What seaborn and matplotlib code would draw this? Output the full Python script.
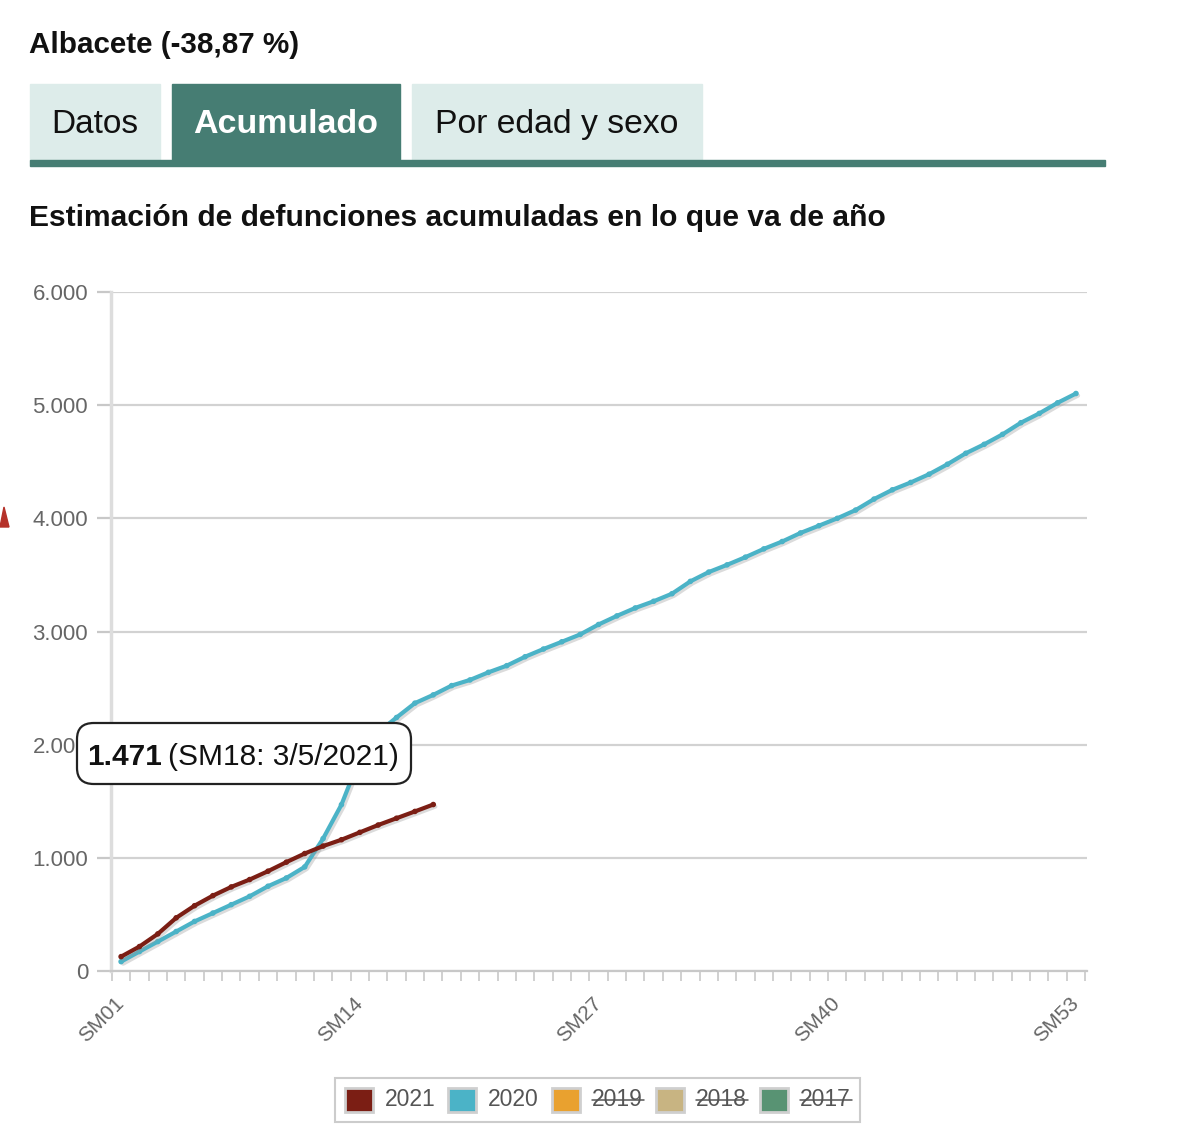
import pandas as pd
import seaborn as sns
import matplotlib.pyplot as plt
import matplotlib.patheffects as pe
from matplotlib.patches import Rectangle, FancyBboxPatch, Polygon
from matplotlib.lines import Line2D

# datos (defunciones acumuladas, Albacete)
semanas = [f"SM{i:02d}" for i in range(1, 54)]
acum_2021 = [127, 216, 328, 470, 577, 666, 743, 808, 882, 962, 1038, 1104,
             1160, 1225, 1290, 1350, 1410, 1471]
acum_2020 = [83, 172, 260, 349, 438, 512, 586, 660, 749, 822, 920, 1170, 1470,
             1880, 2110, 2240, 2367, 2440, 2522, 2572, 2639, 2698, 2777, 2845,
             2909, 2974, 3062, 3138, 3208, 3267, 3334, 3443, 3525, 3589, 3657,
             3730, 3795, 3871, 3935, 4000, 4073, 4170, 4252, 4317, 4390, 4478,
             4575, 4654, 4742, 4845, 4927, 5021, 5103]
anios = ["2021", "2020", "2019", "2018", "2017"]
colores = ["#7b1e14", "#4bb3c7", "#e9a12f", "#c8b482", "#589373"]
ticks_y = [0, 1000, 2000, 3000, 4000, 5000, 6000]
etiquetas_y = ["0", "1.000", "2.000", "3.000", "4.000", "5.000", "6.000"]
semanas_visibles = ["SM01", "SM14", "SM27", "SM40", "SM53"]

W, H = 1200, 1144


def fx(x):
    return x / W


def fy(y):
    return 1 - y / H


df = pd.concat([
    pd.DataFrame({"pos": range(len(acum_2021)), "valor": acum_2021, "anio": "2021"}),
    pd.DataFrame({"pos": range(len(acum_2020)), "valor": acum_2020, "anio": "2020"}),
])

sns.set_style("white")
plt.rcParams["font.family"] = ["Liberation Sans", "DejaVu Sans"]

fig = plt.figure(figsize=(12, 11.44), dpi=100)
ax = fig.add_axes([fx(111), fy(971), fx(1087) - fx(111), fy(292) - fy(971)])

sombra = [pe.SimpleLineShadow(offset=(1.5, -1.5), shadow_color="#999999", alpha=0.35), pe.Normal()]
sns.lineplot(data=df, x="pos", y="valor", hue="anio", hue_order=["2020", "2021"],
             palette={"2021": colores[0], "2020": colores[1]}, marker="o",
             markersize=4, markeredgewidth=0, linewidth=3, legend=False, ax=ax,
             path_effects=sombra, zorder=3)

ax.set_xlim(-0.55, 52.6)
ax.set_ylim(0, 6000)
ax.set_yticks(ticks_y)
ax.set_yticklabels(etiquetas_y, fontsize=16, color="#666666")
ax.yaxis.grid(True, color="#d2d2d2", linewidth=1.6)
ax.xaxis.grid(False)
ax.tick_params(axis="y", length=10, width=1.6, color="#c8c8c8", pad=6.5, left=True)

pos_vis = [semanas.index(s) for s in semanas_visibles]
ax.set_xticks(pos_vis)
ax.set_xticklabels(semanas_visibles, rotation=45, ha="right", va="center",
                   rotation_mode="anchor", fontsize=15, color="#666666")
ax.set_xticks([i - 0.5 for i in range(len(semanas) + 1)], minor=True)
ax.tick_params(axis="x", which="major", length=0, pad=21)
ax.tick_params(axis="x", which="minor", length=7, width=1.2, color="#c8c8c8", bottom=True)
for lbl in ax.get_xticklabels():
    lbl.set_x(lbl.get_position()[0])
ax.set_xlabel("")
ax.set_ylabel("")
for lado in ["top", "right"]:
    ax.spines[lado].set_visible(False)
ax.spines["left"].set_color("#dddddd")
ax.spines["left"].set_linewidth(2.5)
ax.spines["bottom"].set_color("#c8c8c8")
ax.spines["bottom"].set_linewidth(1.6)

# cabecera
fig.text(fx(29), fy(53), "Albacete (-38,87 %)", fontsize=21.3, fontweight="bold",
         color="#111111", va="baseline")
fig.patches.append(Rectangle((fx(30), fy(160)), fx(130), fy(84) - fy(160),
                             transform=fig.transFigure, color="#ddecea"))
fig.patches.append(Rectangle((fx(172), fy(160)), fx(228), fy(84) - fy(160),
                             transform=fig.transFigure, color="#467d73"))
fig.patches.append(Rectangle((fx(412), fy(160)), fx(290), fy(84) - fy(160),
                             transform=fig.transFigure, color="#ddecea"))
fig.patches.append(Rectangle((fx(30), fy(166)), fx(1075), fy(160) - fy(166),
                             transform=fig.transFigure, color="#467d73"))
fig.text(fx(95), fy(133), "Datos", fontsize=24, color="#111111", ha="center", va="baseline")
fig.text(fx(286), fy(133), "Acumulado", fontsize=24.5, fontweight="bold", color="white",
         ha="center", va="baseline")
fig.text(fx(557), fy(133), "Por edad y sexo", fontsize=24.3, color="#111111",
         ha="center", va="baseline")
fig.text(fx(29), fy(226), "Estimación de defunciones acumuladas en lo que va de año",
         fontsize=21.6, fontweight="bold", color="#111111", va="baseline")

# marca roja cortada en el borde izquierdo
fig.patches.append(Polygon([(fx(0), fy(527)), (fx(4), fy(507)), (fx(9), fy(527))],
                           closed=True, transform=fig.transFigure, color="#b5322a"))

# tooltip
fig.patches.append(FancyBboxPatch((fx(77), fy(784)), fx(334), fy(723) - fy(784),
                                  boxstyle="round,pad=0,rounding_size=0.014",
                                  transform=fig.transFigure, facecolor="white",
                                  edgecolor="#222222", linewidth=1.6, zorder=10))
fig.text(fx(87), fy(765), "1.471", fontsize=21.5, fontweight="bold", color="#111111",
         va="baseline", zorder=11)
fig.text(fx(168), fy(765), "(SM18: 3/5/2021)", fontsize=21.5, color="#111111",
         va="baseline", zorder=11)

# leyenda
fig.patches.append(Rectangle((fx(335), fy(1122)), fx(525), fy(1078) - fy(1122),
                             transform=fig.transFigure, facecolor="white",
                             edgecolor="#cccccc", linewidth=1.5))
x_cuad = [345, 448, 552, 656, 760]
for anio, color, xc in zip(anios, colores, x_cuad):
    fig.patches.append(Rectangle((fx(xc), fy(1112)), fx(28), fy(1088) - fy(1112),
                                 transform=fig.transFigure, facecolor=color,
                                 edgecolor="#cfcfcf", linewidth=2))
    fig.text(fx(xc + 40), fy(1100), anio, fontsize=16.5, color="#555555", va="center")
    if anio in ["2019", "2018", "2017"]:
        fig.lines.append(Line2D([fx(xc + 40), fx(xc + 92)], [fy(1100), fy(1100)],
                                transform=fig.transFigure, color="#555555", linewidth=1.1))

fig.savefig("out.png", dpi=100, facecolor="white")
